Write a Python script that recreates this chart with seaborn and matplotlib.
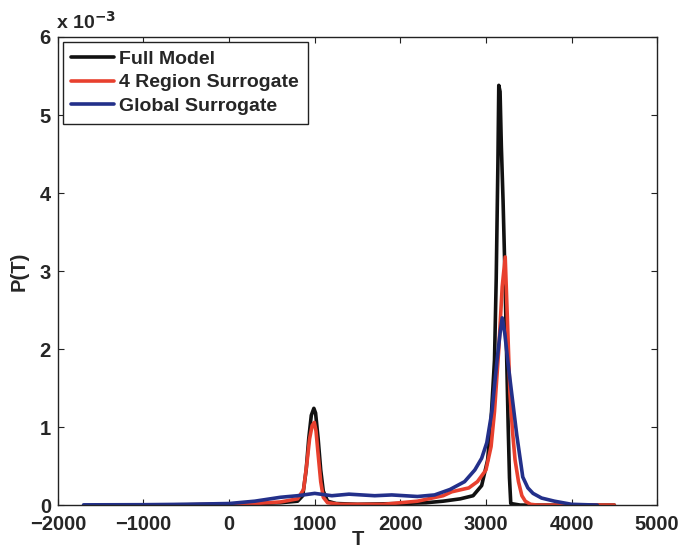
import matplotlib
matplotlib.use("Agg")
import matplotlib.pyplot as plt
import matplotlib.ticker as mticker
import numpy as np
import pandas as pd
import seaborn as sns

# ---- data (P in units of 1e-3) ----
T_full = [-1500, -1000, -500, 0, 300, 600, 800, 860, 900, 930, 960, 990, 1010, 1040, 1070, 1100,
          1150, 1250, 1500, 2000, 2300, 2500, 2700, 2850, 2950, 3020, 3060, 3100, 3120,
          3140, 3150, 3165, 3180, 3200, 3220, 3240, 3260, 3275, 3290, 3400, 4500]
P_full = [0.0, 0.0, 0.005, 0.01, 0.02, 0.03, 0.05, 0.12, 0.45, 0.85, 1.15, 1.24, 1.18, 0.85, 0.45, 0.18,
          0.05, 0.02, 0.01, 0.02, 0.03, 0.05, 0.08, 0.12, 0.25, 0.58, 1.1, 1.86, 2.9,
          4.4, 5.38, 5.3, 4.6, 3.9, 3.05, 2.0, 1.0, 0.35, 0.02, 0.0, 0.0]

T_reg = [-1500, -1000, -500, 0, 300, 600, 800, 870, 910, 940, 970, 995, 1015, 1040, 1070, 1100,
         1150, 1300, 1800, 2200, 2500, 2600, 2800, 2900, 3000, 3060, 3100, 3150, 3190,
         3225, 3250, 3280, 3310, 3340, 3380, 3420, 3460, 3520, 3600, 4500]
P_reg = [0.0, 0.0, 0.003, 0.01, 0.02, 0.04, 0.08, 0.2, 0.55, 0.85, 1.02, 1.06, 0.95, 0.65, 0.3, 0.1,
         0.03, 0.01, 0.01, 0.05, 0.12, 0.17, 0.22, 0.3, 0.45, 0.75, 1.2, 2.0, 2.8,
         3.18, 2.4, 1.44, 0.95, 0.58, 0.3, 0.12, 0.05, 0.01, 0.0, 0.0]

T_glob = [-1700, -1000, -500, 0, 300, 600, 800, 1000, 1200, 1400, 1700, 1900, 2200, 2400, 2580,
          2750, 2870, 2950, 3010, 3070, 3130, 3170, 3190, 3220, 3260, 3300, 3360, 3430, 3490,
          3550, 3650, 3800, 4000, 4300]
P_glob = [0.003, 0.005, 0.01, 0.02, 0.05, 0.1, 0.12, 0.15, 0.12, 0.14, 0.12, 0.13, 0.11, 0.13, 0.2,
          0.3, 0.45, 0.6, 0.8, 1.2, 1.86, 2.25, 2.4, 2.2, 1.8, 1.44, 0.9, 0.36, 0.22,
          0.15, 0.09, 0.05, 0.01, 0.0]

labels = ["Full Model", "4 Region Surrogate", "Global Surrogate"]
colors = ["#111111", "#e8402e", "#23308a"]

df = pd.concat([
    pd.DataFrame({"T": T_full, "P": np.array(P_full) * 1e-3, "model": labels[0]}),
    pd.DataFrame({"T": T_reg, "P": np.array(P_reg) * 1e-3, "model": labels[1]}),
    pd.DataFrame({"T": T_glob, "P": np.array(P_glob) * 1e-3, "model": labels[2]}),
], ignore_index=True)

sns.set_style("white")
plt.rcParams["font.family"] = ["Liberation Sans", "DejaVu Sans"]
plt.rcParams["font.weight"] = "bold"

fig = plt.figure(figsize=(6.81, 5.52), dpi=100)
ax = fig.add_axes([0.085, 0.085, 0.880, 0.848])

sns.lineplot(data=df, x="T", y="P", hue="model", hue_order=labels,
             palette=dict(zip(labels, colors)), sort=False, estimator=None,
             linewidth=2.6, ax=ax)

ax.set_xlim(-2000, 5000)
ax.set_ylim(0, 6e-3)
ax.set_xticks(np.arange(-2000, 5001, 1000))
ax.set_yticks(np.arange(0, 6.01e-3, 1e-3))
ax.xaxis.set_major_formatter(mticker.FuncFormatter(lambda v, p: f"{int(round(v))}".replace("-", "\u2212")))
ax.yaxis.set_major_formatter(mticker.FuncFormatter(lambda v, p: f"{int(round(v * 1e3))}"))
ax.tick_params(direction="in", length=4, width=0.8, labelsize=14.5,
               top=True, right=True, bottom=True, left=True, color="#222222")
ax.tick_params(axis="x", pad=7)
ax.tick_params(axis="y", pad=5)
for s in ax.spines.values():
    s.set_visible(True)
    s.set_color("#222222")
    s.set_linewidth(1.0)

ax.set_xlabel("T", fontsize=14.5, fontweight="bold", labelpad=-3)
ax.set_ylabel("P(T)", fontsize=14.5, fontweight="bold", labelpad=8)
ax.text(-0.003, 1.008, r"x 10$^{-3}$", transform=ax.transAxes, fontsize=14,
        fontweight="bold", ha="left", va="bottom")

leg = ax.legend(loc="upper left", bbox_to_anchor=(0.008, 0.990), fontsize=14,
                frameon=True, fancybox=False, edgecolor="#222222", framealpha=1,
                handlelength=2.2, handletextpad=0.25, borderpad=0.45, labelspacing=0.3,
                borderaxespad=0)
leg.get_frame().set_linewidth(1.0)
for line in leg.get_lines():
    line.set_linewidth(2.6)

fig.savefig("out.png", dpi=100)
